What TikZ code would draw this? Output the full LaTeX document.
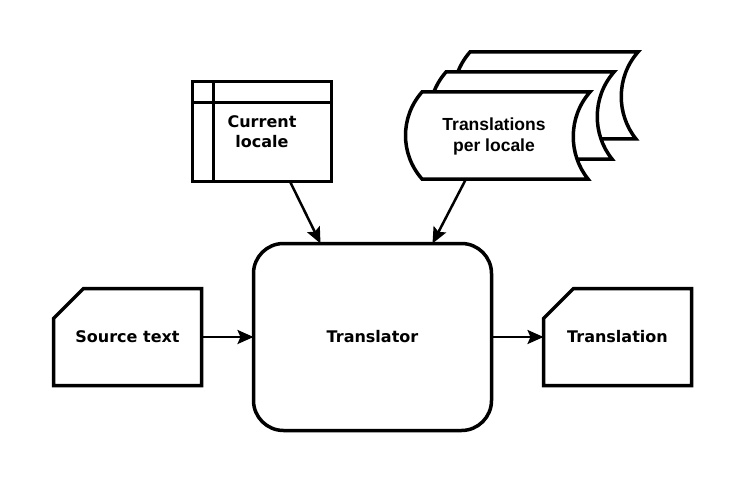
\documentclass[tikz,border=0pt]{standalone}
\usepackage{fontspec}
\setmainfont{DejaVu Sans}
\newfontfamily\arialfont{Liberation Sans}
\usetikzlibrary{arrows.meta}

% one page of the stack of translations, top left corner at #1
\newcommand\tpage[1]{\draw[fill=white,shift={#1}] (0,0) -- (168,0) .. controls (146,25) and (146,62) .. (166,87) -- (0,87) .. controls (-22,62) and (-22,25) .. (0,0) -- cycle;}

\begin{document}
\begin{tikzpicture}[x=1pt,y=-1pt,line width=3.5pt,>={Stealth[length=16pt,width=14pt,inset=3pt]},font=\fontsize{16}{20}\selectfont\bfseries]
 \tikzstyle{frame}=[minimum width=148pt,minimum height=97pt,inner sep=0pt,outer sep=0pt]
 \tikzstyle{link}=[->,line width=2.5pt]
 \useasboundingbox (0,0) rectangle (744,484);

   % translator
   \node[draw,rounded corners=30pt,minimum width=238pt,minimum height=187pt,outer sep=0pt] (tr) at (372.5,337) {Translator};

   % current locale
   \node[draw,frame,minimum width=139pt,minimum height=100pt,align=center] (cl) at (262,131.5) {Current\\locale};
   \draw ([xshift=21pt]cl.north west) -- ([xshift=21pt]cl.south west);
   \draw ([yshift=-21pt]cl.north west) -- ([yshift=-21pt]cl.north east);

   % translations per locale
   \tpage{(470,52)}
   \tpage{(446,72)}
   \tpage{(422,92)}
   \node[frame,minimum width=168pt,minimum height=87pt] (tp) at (506,135.5) {};
   \node[font=\fontsize{17.5}{21}\selectfont\bfseries\arialfont,align=center] (tpl) at (494,136) {Translations\\per locale};

   % source text and translation
   \node[frame] (src) at (127.5,337) {Source text};
   \draw (src.south west) -- (src.south east) -- (src.north east) -- ([xshift=30pt]src.north west) -- ([yshift=-30pt]src.north west) -- cycle;
   \node[frame] (dst) at (617.5,337) {Translation};
   \draw (dst.south west) -- (dst.south east) -- (dst.north east) -- ([xshift=30pt]dst.north west) -- ([yshift=-30pt]dst.north west) -- cycle;

   % connectors
   \draw[link] ([xshift=28pt]cl.south) -- ([xshift=-52pt]tr.north);
   \draw[link] ([xshift=-40pt]tp.south) -- ([xshift=60pt]tr.north);
   \draw[link] (src.east) -- (tr.west);
   \draw[link] (tr.east) -- (dst.west);

\end{tikzpicture}
\end{document}
